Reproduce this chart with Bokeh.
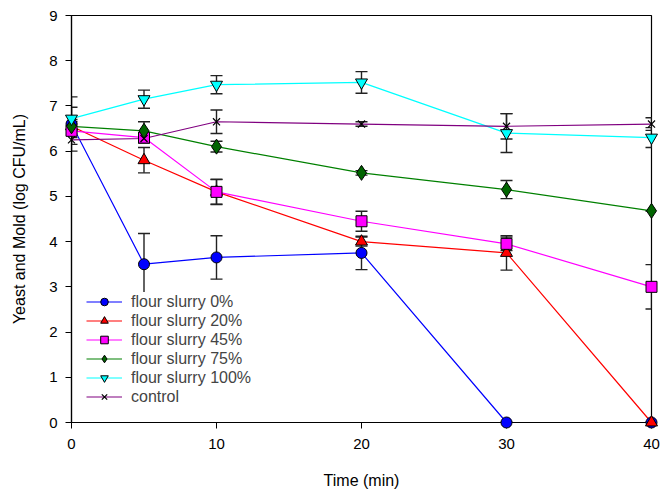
from bokeh.plotting import figure
from bokeh.models import (Whisker, ColumnDataSource, TeeHead, FixedTicker, Range1d,
                          Legend, LegendItem)
from bokeh.embed import file_html
from bokeh.resources import INLINE

time = [0, 5, 10, 20, 30, 40]
s0 = [6.6, 3.5, 3.65, 3.75, 0.0, 0.0]
e0 = [0.6, 0.68, 0.48, 0.37, 0.0, 0.0]
s20 = [6.55, 5.8, 5.1, 4.0, 3.75, 0.0]
e20 = [0.1, 0.28, 0.28, 0.1, 0.38, 0.0]
s45 = [6.45, 6.3, 5.1, 4.45, 3.95, 3.0]
e45 = [0.15, 0.1, 0.27, 0.22, 0.15, 0.49]
s75 = [6.55, 6.45, 6.1, 5.52, 5.15, 4.68]
e75 = [0.15, 0.2, 0.12, 0.05, 0.2, 0.0]
s100 = [6.72, 7.15, 7.47, 7.52, 6.4, 6.3]
e100 = [0.25, 0.2, 0.2, 0.24, 0.43, 0.22]
ctrl = [6.25, 6.28, 6.65, 6.6, 6.55, 6.6]
ectrl = [0.1, 0.1, 0.26, 0.05, 0.28, 0.14]

labels = ["flour slurry 0%", "flour slurry 20%", "flour slurry 45%",
          "flour slurry 75%", "flour slurry 100%", "control"]
x_ticks = [0, 10, 20, 30, 40]
y_ticks = list(range(0, 10))

series = [
    (s0, e0, "#0000ff", "#0000ff", "circle", 11),
    (s20, e20, "#ff0000", "#ff0000", "triangle", 12),
    (s45, e45, "#ff00ff", "#ff00ff", "square", 11),
    (s75, e75, "#008000", "#006400", "diamond", 15),
    (s100, e100, "#00ffff", "#00ffff", "inverted_triangle", 12),
    (ctrl, ectrl, "#800080", None, "x", 10),
]

p = figure(width=660, height=491, output_backend="svg", toolbar_location=None,
           x_range=Range1d(0, 40), y_range=Range1d(0, 9),
           min_border_left=71, min_border_top=15, min_border_right=9, min_border_bottom=67)
p.xgrid.visible = False
p.ygrid.visible = False
p.outline_line_color = "black"
p.outline_line_width = 1.2
p.background_fill_color = "white"

for ax in (p.xaxis[0], p.yaxis[0]):
    ax.axis_line_color = "black"
    ax.axis_line_width = 1.2
    ax.major_tick_line_color = "black"
    ax.major_tick_out = 6
    ax.major_tick_in = 0
    ax.minor_tick_line_color = None
    ax.major_label_text_font = "Liberation Sans"
    ax.major_label_text_font_size = "15px"
    ax.major_label_text_color = "black"
    ax.axis_label_text_font = "Liberation Sans"
    ax.axis_label_text_font_size = "16px"
    ax.axis_label_text_font_style = "normal"
    ax.axis_label_text_color = "black"
p.xaxis.ticker = FixedTicker(ticks=x_ticks)
p.yaxis.ticker = FixedTicker(ticks=y_ticks)
p.xaxis.axis_label = "Time (min)"
p.yaxis.axis_label = "Yeast and Mold (log CFU/mL)"
p.xaxis.major_label_standoff = 10
p.yaxis.major_label_standoff = 8
p.xaxis.axis_label_standoff = 20
p.yaxis.axis_label_standoff = 18

items = []
for (vals, errs, lc, fc, mk, sz), lab in zip(series, labels):
    up = [v + e for v, e in zip(vals, errs)]
    lo = [v - e for v, e in zip(vals, errs)]
    src = ColumnDataSource(dict(x=time, y=vals, up=up, lo=lo))
    w = Whisker(source=src, base="x", upper="up", lower="lo",
                line_color="#222222", line_width=1.4,
                upper_head=TeeHead(size=12, line_color="#222222", line_width=1.4),
                lower_head=TeeHead(size=12, line_color="#222222", line_width=1.4))
    p.add_layout(w)
    r1 = p.line("x", "y", source=src, line_color=lc, line_width=1.2)
    if mk == "x":
        r2 = p.scatter("x", "y", source=src, marker="x", size=sz, line_color="black",
                       line_width=1.2, level="overlay")
    else:
        r2 = p.scatter("x", "y", source=src, marker=mk, size=sz, fill_color=fc,
                       line_color="black", line_width=1, level="overlay")
    items.append(LegendItem(label=lab, renderers=[r1, r2]))

leg = Legend(items=items, location=(15, 16), border_line_color=None,
             background_fill_color="white", background_fill_alpha=1.0,
             label_text_font="Liberation Sans", label_text_font_size="16px",
             glyph_width=36, glyph_height=19, label_height=19, spacing=0,
             label_standoff=9, padding=5, margin=0)
p.add_layout(leg, "center")

open("out.html", "w").write(file_html(p, INLINE))
